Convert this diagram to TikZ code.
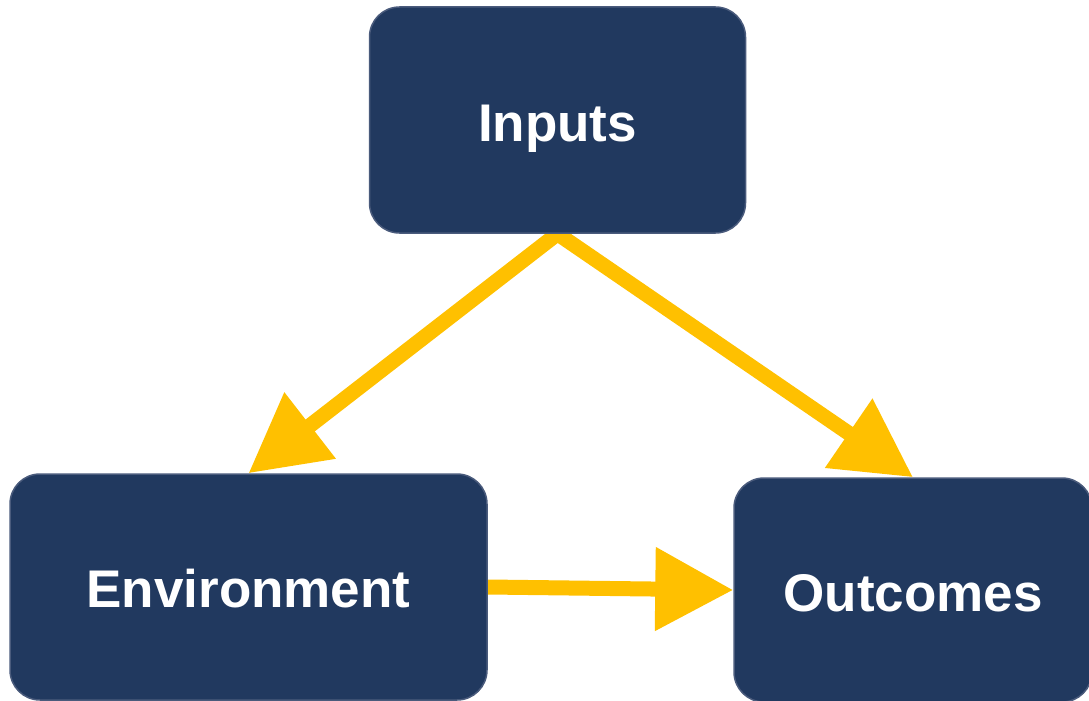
\documentclass[tikz,border=0pt]{standalone}
\usepackage{fontspec}
\setmainfont{Liberation Sans}
\usetikzlibrary{arrows.meta}
\definecolor{navy}{HTML}{21395F}
\definecolor{edgeblue}{HTML}{4A5B7C}
\definecolor{gold}{HTML}{FFC000}
\pgfdeclarelayer{bg}
\pgfsetlayers{bg,main}
\tikzset{
  box/.style={draw=edgeblue, line width=1.5pt, fill=navy, rounded corners=30pt,
    text=white, font=\fontsize{53}{60}\selectfont\bfseries, inner sep=0pt,
    text height=38pt, text depth=0pt},
  link/.style={draw=gold, line width=15pt, line cap=butt,
    -{Triangle[length=78pt,width=80pt]}, gold}
}
\begin{document}
\begin{tikzpicture}[x=1pt,y=-1pt]
\useasboundingbox (0,0) rectangle (1089,701);
\node[box, minimum width=376pt, minimum height=226pt] (inputs) at (557.5,120) {\raisebox{-2pt}{Inputs}};
\node[box, minimum width=477pt, minimum height=226pt] (env) at (248.5,587) {\raisebox{-1pt}{Environment}};
\node[box, minimum width=358pt, minimum height=224pt] (out) at (913,590) {\raisebox{-2pt}{Outcomes}};
\begin{pgfonlayer}{bg}
\draw[link] (inputs.south) -- (env.north);
\draw[link] (inputs.south) -- (out.north);
\draw[link] (env.east) -- (out.west);
\end{pgfonlayer}
\end{tikzpicture}
\end{document}
